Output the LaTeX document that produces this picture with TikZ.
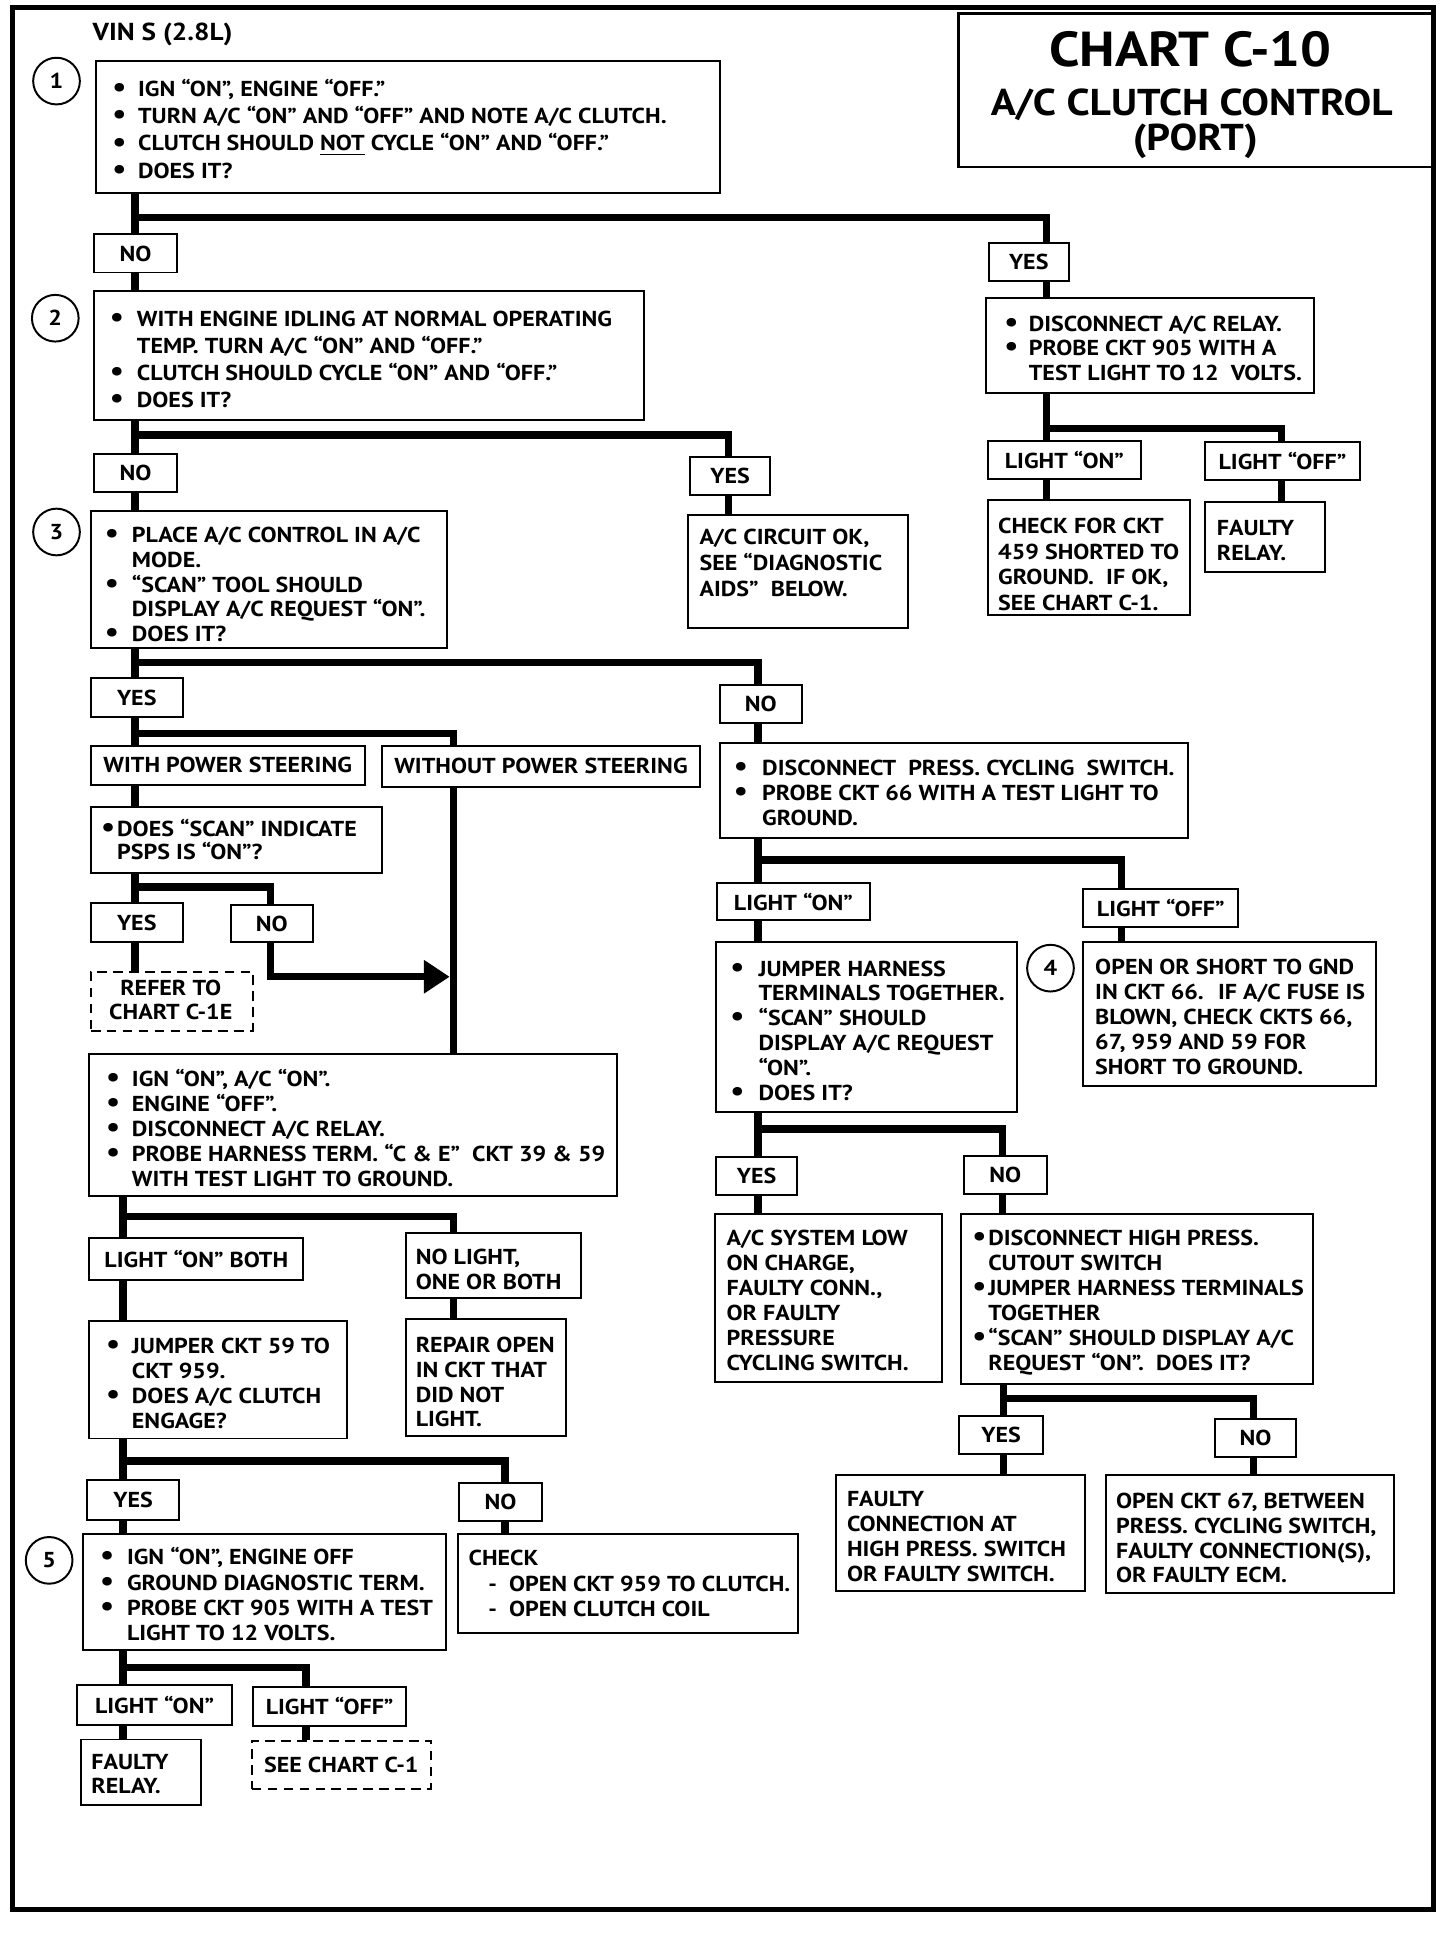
\documentclass[tikz,border=0pt]{standalone}
\usepackage{graphicx}
\usepackage{fontspec}
\setmainfont{PT Sans}[FakeStretch=1.11]
\usetikzlibrary{arrows.meta}
\newcommand{\lbl}{\bfseries\fontsize{8.8}{10.2}\selectfont}
\newcommand{\Bx}[7][]{\node[box,#1,minimum width={(#5-#3)*0.5pt},minimum height={(#6-#4)*0.5pt},anchor=north west] (#2) at (#3,#4) {#7};}
\newcommand{\bl}[1]{\makebox[#1][l]{\scalebox{1.3}{•}}}
\newcommand{\ii}[1]{\hspace*{#1}}
\begin{document}
\begin{tikzpicture}[x=0.5pt,y=-0.5pt,
 box/.style={draw,line width=0.8pt,inner sep=0pt,font=\lbl},
 dbox/.style={box,dash pattern=on 4pt off 2.5pt},
 txt/.style={inner sep=0pt,align=left,anchor=base west,yshift=-1.5pt,font=\bfseries\fontsize{8.8}{10.2}\selectfont},
 conn/.style={line width=3pt},
 num/.style={draw,circle,line width=0.8pt,minimum size=19pt,inner sep=0pt,font=\bfseries\fontsize{8.8}{10}\selectfont}]
\useasboundingbox (0,0) rectangle (1185,1579);
\draw[line width=2pt] (10,6) rectangle (1167,1554);
% title
\Bx[line width=1pt]{title}{779}{10}{1167}{135}{}
\node[inner sep=0pt,font=\bfseries\fontsize{20}{24}\selectfont] (tt1) at (969,40) {CHART C-10};
\node[inner sep=0pt,font=\bfseries\fontsize{15.2}{19}\selectfont] (tt2) at (970,85) {A/C CLUTCH CONTROL};
\node[inner sep=0pt,font=\bfseries\fontsize{15.2}{19}\selectfont] (tt3) at (973,115) {(PORT)};
\node[txt,font=\bfseries\fontsize{10}{12}\selectfont] (vin) at (75,30) {VIN S (2.8L)};
% circles
\node[num] (c1) at (46,66) {1};
\node[num] (c2) at (45,259) {2};
\node[num] (c3) at (46,433) {3};
\node[num] (c4) at (855,788) {4};
\node[num] (c5) at (40,1270) {5};
% left column
\Bx{box1}{77}{49}{585}{156}{}
\node[txt,font=\bfseries\fontsize{8.8}{11.1}\selectfont] (box1t) at (91,142.1) {\bl{10.5pt}IGN “ON”, ENGINE “OFF.”\\ \bl{10.5pt}TURN A/C “ON” AND “OFF” AND NOTE A/C CLUTCH.\\ \bl{10.5pt}CLUTCH SHOULD \underline{NOT} CYCLE “ON” AND “OFF.”\\ \bl{10.5pt}DOES IT?};
\Bx{no1}{76}{190}{143}{221}{NO}
\Bx{yes1}{804}{197}{869}{228}{YES}
\Bx{box2}{76}{236}{523}{341}{}
\node[txt,font=\bfseries\fontsize{8.8}{11}\selectfont] (box2t) at (89,328.5) {\bl{11pt}WITH ENGINE IDLING AT NORMAL OPERATING\\ \ii{11pt}TEMP. TURN A/C “ON” AND “OFF.”\\ \bl{11pt}CLUTCH SHOULD CYCLE “ON” AND “OFF.”\\ \bl{11pt}DOES IT?};
\Bx{rb1}{802}{242}{1069}{319}{}
\node[txt,font=\bfseries\fontsize{8.8}{10}\selectfont] (rb1t) at (817,306.5) {\bl{10pt}DISCONNECT A/C RELAY.\\ \bl{10pt}PROBE CKT 905 WITH A\\ \ii{10pt}TEST LIGHT TO 12~ VOLTS.};
\Bx{lon1}{803}{358}{928}{389}{LIGHT “ON”}
\Bx{loff1}{980}{359}{1106}{390}{LIGHT “OFF”}
\Bx{rchk}{803}{406}{968}{500}{}
\node[txt,font=\bfseries\fontsize{8.8}{10.35}\selectfont] (rchkt) at (812,493.6) {CHECK FOR CKT\\ 459 SHORTED TO\\ GROUND.~ IF OK,\\ SEE CHART C-1.};
\Bx{rfr}{980}{408}{1078}{465}{}
\node[txt,font=\bfseries\fontsize{8.8}{10.5}\selectfont] (rfrt) at (990,453.5) {FAULTY\\ RELAY.};
\Bx{no2}{76}{369}{143}{400}{NO}
\Bx{yes2}{561}{371}{626}{402}{YES}
\Bx{ok}{559}{418}{738}{510}{}
\node[txt,font=\bfseries\fontsize{8.8}{10.5}\selectfont] (okt) at (569,482.5) {A/C CIRCUIT OK,\\ SEE “DIAGNOSTIC\\ AIDS”~ BELOW.};
\Bx{box3}{73}{415}{363}{527}{}
\node[txt,font=\bfseries\fontsize{8.8}{10.1}\selectfont] (box3t) at (85,519.3) {\bl{11pt}PLACE A/C CONTROL IN A/C\\ \ii{11pt}MODE.\\ \bl{11pt}“SCAN” TOOL SHOULD\\ \ii{11pt}DISPLAY A/C REQUEST “ON”.\\ \bl{11pt}DOES IT?};
\Bx{yes3}{73}{551}{148}{583}{YES}
\Bx{no3}{585}{557}{652}{588}{NO}
\Bx{wps}{73}{606}{296}{638}{WITH POWER STEERING}
\Bx{wops}{310}{606}{569}{640}{WITHOUT POWER STEERING}
\Bx{psps}{73}{656}{310}{710}{}
\node[txt,font=\bfseries\fontsize{8.8}{9.5}\selectfont] (pspst) at (82,696.5) {\bl{6.5pt}DOES “SCAN” INDICATE\\ \ii{6.5pt}PSPS IS “ON”?};
\Bx{yes4}{73}{734}{148}{766}{YES}
\Bx{no4}{187}{736}{254}{766}{NO}
\Bx[dbox]{ref}{73}{790}{205}{838}{}
\node[txt,align=center,anchor=base,font=\bfseries\fontsize{8.8}{9.5}\selectfont] (reft) at (139,826.5) {REFER TO\\ CHART C-1E};
\Bx{ign}{72}{857}{501}{973}{}
\node[txt,font=\bfseries\fontsize{8.8}{10.1}\selectfont] (ignt) at (86,962.3) {\bl{10.5pt}IGN “ON”, A/C “ON”.\\ \bl{10.5pt}ENGINE “OFF”.\\ \bl{10.5pt}DISCONNECT A/C RELAY.\\ \bl{10.5pt}PROBE HARNESS TERM. “C \& E”~ CKT 39 \& 59\\ \ii{10.5pt}WITH TEST LIGHT TO GROUND.};
\Bx{lob}{72}{1007}{246}{1041}{LIGHT “ON” BOTH}
\Bx{nol}{330}{1003}{472}{1056}{}
\node[txt,font=\bfseries\fontsize{8.8}{10}\selectfont] (nolt) at (338,1046.5) {NO LIGHT,\\ ONE OR BOTH};
\Bx{jmp}{72}{1074}{282}{1170}{}
\node[txt,font=\bfseries\fontsize{8.8}{10.15}\selectfont] (jmpt) at (86,1159.4) {\bl{10.5pt}JUMPER CKT 59 TO\\ \ii{10.5pt}CKT 959.\\ \bl{10.5pt}DOES A/C CLUTCH\\ \ii{10.5pt}ENGAGE?};
\Bx{rep}{330}{1073}{460}{1168}{}
\node[txt,font=\bfseries\fontsize{8.8}{10.15}\selectfont] (rept) at (338,1158.4) {REPAIR OPEN\\ IN CKT THAT\\ DID NOT\\ LIGHT.};
\Bx{yes5}{70}{1204}{145}{1236}{YES}
\Bx{no5}{373}{1206}{440}{1237}{NO}
\Bx{b5}{67}{1248}{362}{1342}{}
\node[txt,font=\bfseries\fontsize{8.8}{10.35}\selectfont] (b5t) at (81,1332.6) {\bl{11pt}IGN “ON”, ENGINE OFF\\ \bl{11pt}GROUND DIAGNOSTIC TERM.\\ \bl{11pt}PROBE CKT 905 WITH A TEST\\ \ii{11pt}LIGHT TO 12 VOLTS.};
\Bx{chk}{372}{1248}{649}{1328}{}
\node[txt,font=\bfseries\fontsize{8.8}{10.25}\selectfont] (chkt) at (381,1312.5) {CHECK\\ \ii{8pt}-~ OPEN CKT 959 TO CLUTCH.\\ \ii{8pt}-~ OPEN CLUTCH COIL};
\Bx{lon5}{62}{1371}{188}{1403}{LIGHT “ON”}
\Bx{loff5}{205}{1372}{330}{1404}{LIGHT “OFF”}
\Bx{fr5}{65}{1415}{163}{1468}{}
\node[txt,font=\bfseries\fontsize{8.8}{9.5}\selectfont] (fr5t) at (74,1456.5) {FAULTY\\ RELAY.};
\Bx[dbox]{see}{204}{1416}{350}{1455}{SEE CHART C-1}
% right column
\Bx{dps}{585}{604}{966}{681}{}
\node[txt,font=\bfseries\fontsize{8.8}{10}\selectfont] (dpst) at (597,668.5) {\bl{11.5pt}DISCONNECT~ PRESS. CYCLING~ SWITCH.\\ \bl{11.5pt}PROBE CKT 66 WITH A TEST LIGHT TO\\ \ii{11.5pt}GROUND.};
\Bx{lon6}{583}{718}{707}{748}{LIGHT “ON”}
\Bx{loff6}{881}{723}{1007}{754}{LIGHT “OFF”}
\Bx{jh}{582}{766}{827}{904}{}
\node[txt,font=\bfseries\fontsize{8.8}{10.1}\selectfont] (jht) at (594,892.5) {\bl{11.5pt}JUMPER HARNESS\\ \ii{11.5pt}TERMINALS TOGETHER.\\ \bl{11.5pt}“SCAN” SHOULD\\ \ii{11.5pt}DISPLAY A/C REQUEST\\ \ii{11.5pt}“ON”.\\ \bl{11.5pt}DOES IT?};
\Bx{osg}{881}{766}{1119}{883}{}
\node[txt,font=\bfseries\fontsize{8.8}{10.1}\selectfont] (osgt) at (891,871.3) {OPEN OR SHORT TO GND\\ IN CKT 66.~ IF A/C FUSE IS\\ BLOWN, CHECK CKTS 66,\\ 67, 959 AND 59 FOR\\ SHORT TO GROUND.};
\Bx{yes7}{582}{941}{648}{972}{YES}
\Bx{no7}{784}{940}{851}{971}{NO}
\Bx{low}{581}{987}{766}{1124}{}
\node[txt,font=\bfseries\fontsize{8.8}{10.2}\selectfont] (lowt) at (591,1112.5) {A/C SYSTEM LOW\\ ON CHARGE,\\ FAULTY CONN.,\\ OR FAULTY\\ PRESSURE\\ CYCLING SWITCH.};
\Bx{dhp}{781}{987}{1068}{1126}{}
\node[txt,font=\bfseries\fontsize{8.8}{10.2}\selectfont] (dhpt) at (791,1112.5) {\bl{6.5pt}DISCONNECT HIGH PRESS.\\ \ii{6.5pt}CUTOUT SWITCH\\ \bl{6.5pt}JUMPER HARNESS TERMINALS\\ \ii{6.5pt}TOGETHER\\ \bl{6.5pt}“SCAN” SHOULD DISPLAY A/C\\ \ii{6.5pt}REQUEST “ON”.~ DOES IT?};
\Bx{yes8}{780}{1152}{848}{1183}{YES}
\Bx{no8}{988}{1154}{1054}{1185}{NO}
\Bx{fc}{680}{1200}{882}{1294}{}
\node[txt,font=\bfseries\fontsize{8.8}{10.15}\selectfont] (fct) at (689,1284.4) {FAULTY\\ CONNECTION AT\\ HIGH PRESS. SWITCH\\ OR FAULTY SWITCH.};
\Bx{oc}{899}{1200}{1134}{1296}{}
\node[txt,font=\bfseries\fontsize{8.8}{10.15}\selectfont] (oct) at (908,1285.4) {OPEN CKT 67, BETWEEN\\ PRESS. CYCLING SWITCH,\\ FAULTY CONNECTION(S),\\ OR FAULTY ECM.};
% junction coordinates
\coordinate (cA1) at (110,177); \coordinate (r1) at (852,177);
\coordinate (cR1) at (852,349); \coordinate (r6) at (1043,349);
\coordinate (cA2) at (110,354); \coordinate (r2) at (593,354);
\coordinate (cA3) at (110,539); \coordinate (r3) at (617,539);
\coordinate (cA4) at (110,597); \coordinate (r4) at (369,597);
\coordinate (cA5) at (110,722); \coordinate (r5) at (220,722);
\coordinate (ar) at (366,795);
\coordinate (cB1) at (100,990); \coordinate (r7) at (369,990);
\coordinate (cB2) at (100,1189); \coordinate (r8) at (411,1189);
\coordinate (cB3) at (100,1357); \coordinate (r9) at (249,1357);
\coordinate (cC1) at (617,700); \coordinate (r10) at (913,700);
\coordinate (cC2) at (617,919); \coordinate (r11) at (816,919);
\coordinate (cD1) at (817,1138); \coordinate (r12) at (1020,1138);
% connectors
\draw[conn] (box1.south -| cA1) -- (no1.north -| cA1);
\draw[conn] (cA1) -- (r1) -- (r1 |- yes1.north);
\draw[conn] (no1.south -| cA1) -- (box2.north -| cA1);
\draw[conn] (yes1.south -| r1) -- (rb1.north -| r1);
\draw[conn] (rb1.south -| r1) -- (lon1.north -| r1);
\draw[conn] (cR1) -- (r6) -- (r6 |- loff1.north);
\draw[conn] (lon1.south -| r1) -- (rchk.north -| r1);
\draw[conn] (loff1.south -| r6) -- (rfr.north -| r6);
\draw[conn] (box2.south -| cA1) -- (no2.north -| cA1);
\draw[conn] (cA2) -- (r2) -- (r2 |- yes2.north);
\draw[conn] (yes2.south -| r2) -- (ok.north -| r2);
\draw[conn] (no2.south -| cA1) -- (box3.north -| cA1);
\draw[conn] (box3.south -| cA1) -- (yes3.north -| cA1);
\draw[conn] (cA3) -- (r3) -- (r3 |- no3.north);
\draw[conn] (yes3.south -| cA1) -- (wps.north -| cA1);
\draw[conn] (cA4) -- (r4) -- (r4 |- wops.north);
\draw[conn] (wps.south -| cA1) -- (psps.north -| cA1);
\draw[conn] (psps.south -| cA1) -- (yes4.north -| cA1);
\draw[conn] (cA5) -- (r5) -- (r5 |- no4.north);
\draw[conn] (yes4.south -| cA1) -- (ref.north -| cA1);
\draw[conn] (wops.south -| r4) -- (ign.north -| r4);
\draw[conn,-{Triangle[length=10.5pt,width=13pt]}] (no4.south -| r5) |- (ar);
\draw[conn] (ign.south -| cB1) -- (lob.north -| cB1);
\draw[conn] (cB1) -- (r7) -- (r7 |- nol.north);
\draw[conn] (lob.south -| cB1) -- (jmp.north -| cB1);
\draw[conn] (nol.south -| r7) -- (rep.north -| r7);
\draw[conn] (jmp.south -| cB1) -- (yes5.north -| cB1);
\draw[conn] (cB2) -- (r8) -- (r8 |- no5.north);
\draw[conn] (yes5.south -| cB1) -- (b5.north -| cB1);
\draw[conn] (no5.south -| r8) -- (chk.north -| r8);
\draw[conn] (b5.south -| cB1) -- (lon5.north -| cB1);
\draw[conn] (cB3) -- (r9) -- (r9 |- loff5.north);
\draw[conn] (lon5.south -| cB1) -- (fr5.north -| cB1);
\draw[conn] (loff5.south -| r9) -- (see.north -| r9);
\draw[conn] (no3.south -| r3) -- (dps.north -| r3);
\draw[conn] (dps.south -| r3) -- (lon6.north -| r3);
\draw[conn] (cC1) -- (r10) -- (r10 |- loff6.north);
\draw[conn] (lon6.south -| r3) -- (jh.north -| r3);
\draw[conn] (loff6.south -| r10) -- (osg.north -| r10);
\draw[conn] (jh.south -| r3) -- (yes7.north -| r3);
\draw[conn] (cC2) -- (r11) -- (r11 |- no7.north);
\draw[conn] (yes7.south -| r3) -- (low.north -| r3);
\draw[conn] (no7.south -| r11) -- (dhp.north -| r11);
\draw[conn] (dhp.south -| cD1) -- (yes8.north -| cD1);
\draw[conn] (cD1) -- (r12) -- (r12 |- no8.north);
\draw[conn] (yes8.south -| cD1) -- (fc.north -| cD1);
\draw[conn] (no8.south -| r12) -- (oc.north -| r12);
\end{tikzpicture}
\end{document}
